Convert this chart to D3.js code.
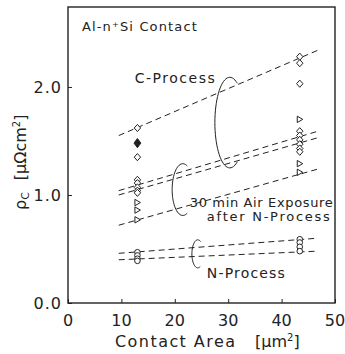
<!DOCTYPE html>
<html>
<head>
<meta charset="utf-8">
<script src="https://cdn.jsdelivr.net/npm/d3@7"></script>
<style>
  html, body { margin: 0; padding: 0; background: #fff; }
  text { font-family: "DejaVu Sans", sans-serif; fill: #222; }
</style>
</head>
<body>
<div id="chart"></div>
<script>
'use strict';

// contact area of the two test structures [um^2]
var areaSmall = 13,
    areaLarge = 43.4;

// C-Process, open diamonds
var cOpenX = [areaSmall, areaSmall, areaLarge, areaLarge, areaLarge];
var cOpenY = [1.62, 1.35, 2.28, 2.22, 2.03];
// C-Process, filled diamond
var cFilledX = [areaSmall];
var cFilledY = [1.48];
// 30 min air exposure, diamonds
var airDiamondX = [areaSmall, areaSmall, areaSmall, areaSmall, areaSmall,
                   areaLarge, areaLarge, areaLarge, areaLarge, areaLarge, areaLarge];
var airDiamondY = [1.14, 1.11, 1.07, 1.04, 1.02,
                   1.59, 1.55, 1.51, 1.47, 1.43, 1.40];
// 30 min air exposure, triangles
var airTriX = [areaSmall, areaSmall, areaSmall, areaLarge, areaLarge, areaLarge];
var airTriY = [0.93, 0.86, 0.77, 1.70, 1.29, 1.21];
// N-Process, circles
var nCircleX = [areaSmall, areaSmall, areaSmall, areaSmall, areaLarge, areaLarge, areaLarge, areaLarge];
var nCircleY = [0.47, 0.44, 0.41, 0.39, 0.59, 0.56, 0.52, 0.48];

// dashed fit lines: value at start and end of the x span
var fitX = [9.5, 46.8];
var fitStartY = [1.55, 1.04, 1.00, 0.72, 0.46, 0.40];
var fitEndY = [2.34, 1.59, 1.53, 1.24, 0.60, 0.48];

var xTicks = [0, 10, 20, 30, 40, 50];
var yTicks = [0, 1, 2];

var width = 345, height = 354;
var margin = {top: 7, right: 10, bottom: 51, left: 68};

var svg = d3.select('#chart')
    .append('svg')
    .attr('width', width)
    .attr('height', height);

var x = d3.scaleLinear()
    .domain([0, 50])
    .range([margin.left, width - margin.right]);

var y = d3.scaleLinear()
    .domain([0, 2.74])
    .range([height - margin.bottom, margin.top]);

var ink = '#222';

// frame
svg.append('rect')
    .attr('x', x(0))
    .attr('y', y(2.74))
    .attr('width', x(50) - x(0))
    .attr('height', y(0) - y(2.74))
    .attr('fill', 'none')
    .attr('stroke', ink)
    .attr('stroke-width', 1.4);

// inward ticks
var xAxis = d3.axisTop(x).tickValues(xTicks).tickSize(4).tickFormat('');
svg.append('g')
    .attr('transform', 'translate(0,' + y(0) + ')')
    .call(xAxis)
    .call(function(g) { g.select('.domain').remove(); })
    .selectAll('line').attr('stroke', ink);

var yAxis = d3.axisRight(y).tickValues(yTicks).tickSize(4).tickFormat('');
svg.append('g')
    .attr('transform', 'translate(' + x(0) + ',0)')
    .call(yAxis)
    .call(function(g) { g.select('.domain').remove(); })
    .selectAll('line').attr('stroke', ink);

// tick labels
svg.append('g').selectAll('text')
    .data(xTicks)
    .join('text')
    .attr('x', function(d) { return x(d); })
    .attr('y', y(0) + 17)
    .attr('dy', '0.35em')
    .attr('text-anchor', 'middle')
    .attr('font-size', 16)
    .text(function(d) { return d; });

svg.append('g').selectAll('text')
    .data(yTicks)
    .join('text')
    .attr('x', x(0) - 6)
    .attr('y', function(d) { return y(d); })
    .attr('dy', '0.35em')
    .attr('text-anchor', 'end')
    .attr('font-size', 16)
    .attr('letter-spacing', 1)
    .text(function(d) { return d3.format('.1f')(d); });

// axis titles
var xTitle = svg.append('text')
    .attr('x', 115)
    .attr('y', 341)
    .attr('dy', '0.35em')
    .attr('font-size', 16);
xTitle.append('tspan').attr('textLength', 120).attr('lengthAdjust', 'spacing').text('Contact Area');
xTitle.append('tspan').attr('x', 255).text('[μm');
xTitle.append('tspan').attr('font-size', 10).attr('dy', -6).text('2');
xTitle.append('tspan').attr('dy', 6).text(']');

var yTitle = svg.append('text')
    .attr('transform', 'translate(20,210) rotate(-90)')
    .attr('dy', '0.35em')
    .attr('font-size', 16);
yTitle.append('tspan').text('ρ');
yTitle.append('tspan').attr('font-size', 11).attr('dy', 3).text('C');
yTitle.append('tspan').attr('dy', -3).attr('dx', 12).text('[μΩcm');
yTitle.append('tspan').attr('font-size', 10).attr('dy', -6).text('2');
yTitle.append('tspan').attr('dy', 6).text(']');

// dashed fit lines
var fitLines = fitStartY.map(function(d, i) {
    return [[fitX[0], d], [fitX[1], fitEndY[i]]];
});
var line = d3.line()
    .x(function(d) { return x(d[0]); })
    .y(function(d) { return y(d[1]); });

svg.append('g').selectAll('path')
    .data(fitLines)
    .join('path')
    .attr('d', line)
    .attr('fill', 'none')
    .attr('stroke', ink)
    .attr('stroke-width', 1)
    .attr('stroke-dasharray', '6,4');

// markers
function diamond(w, h) {
    return 'M0,' + (-h) + 'L' + w + ',0L0,' + h + 'L' + (-w) + ',0Z';
}
function pts(xs, ys) {
    return xs.map(function(d, i) { return [d, ys[i]]; });
}
function place(d) {
    return 'translate(' + x(d[0]) + ',' + y(d[1]) + ')';
}

svg.append('g').selectAll('path')
    .data(pts(cOpenX, cOpenY).concat(pts(airDiamondX, airDiamondY)))
    .join('path')
    .attr('d', diamond(3.2, 3.6))
    .attr('transform', place)
    .attr('fill', '#fff')
    .attr('stroke', ink)
    .attr('stroke-width', 1);

svg.append('g').selectAll('path')
    .data(pts(cFilledX, cFilledY))
    .join('path')
    .attr('d', diamond(3.4, 4.6))
    .attr('transform', place)
    .attr('fill', ink)
    .attr('stroke', ink);

svg.append('g').selectAll('path')
    .data(pts(airTriX, airTriY))
    .join('path')
    .attr('d', 'M-2.5,-3.2L3,0L-2.5,3.2Z')
    .attr('transform', place)
    .attr('fill', '#fff')
    .attr('stroke', ink)
    .attr('stroke-width', 1);

svg.append('g').selectAll('circle')
    .data(pts(nCircleX, nCircleY))
    .join('circle')
    .attr('cx', function(d) { return x(d[0]); })
    .attr('cy', function(d) { return y(d[1]); })
    .attr('r', 2.8)
    .attr('fill', '#fff')
    .attr('stroke', ink)
    .attr('stroke-width', 1);

// bracket arcs tying each group of lines to its label
var brackets = [
    {cx: 30.3, cy: 1.67, rx: 2.8, ry: 0.42, from: -60, to: -300},
    {cx: 21.5, cy: 1.05, rx: 2.0, ry: 0.24, from: -65, to: -295},
    {cx: 24.3, cy: 0.455, rx: 1.1, ry: 0.13, from: -60, to: -295}
];
brackets.forEach(function(b) {
    var angles = d3.range(b.from, b.to - 1, -5);
    var path = d3.line()
        .x(function(a) { return x(b.cx) + (x(b.rx) - x(0)) * Math.cos(a * Math.PI / 180); })
        .y(function(a) { return y(b.cy) + (y(0) - y(b.ry)) * Math.sin(a * Math.PI / 180); })
        .curve(d3.curveBasis);
    svg.append('path')
        .attr('d', path(angles))
        .attr('fill', 'none')
        .attr('stroke', ink)
        .attr('stroke-width', 1);
});

// annotations
var notes = [
    {x: 2.6, y: 2.56, len: 115, t: 'Al-n⁺Si Contact', size: 13},
    {x: 12.5, y: 2.08, len: 80, t: 'C-Process', size: 14},
    {x: 22.8, y: 0.935, len: 143, t: '30 min Air Exposure', size: 13},
    {x: 26.0, y: 0.80, len: 123, t: 'after N-Process', size: 13},
    {x: 26.0, y: 0.28, len: 78, t: 'N-Process', size: 14}
];
svg.append('g').selectAll('text')
    .data(notes)
    .join('text')
    .attr('x', function(d) { return x(d.x); })
    .attr('y', function(d) { return y(d.y); })
    .attr('dy', '0.35em')
    .attr('font-size', function(d) { return d.size; })
    .attr('textLength', function(d) { return d.len; })
    .attr('lengthAdjust', 'spacing')
    .text(function(d) { return d.t; });
</script>
</body>
</html>
